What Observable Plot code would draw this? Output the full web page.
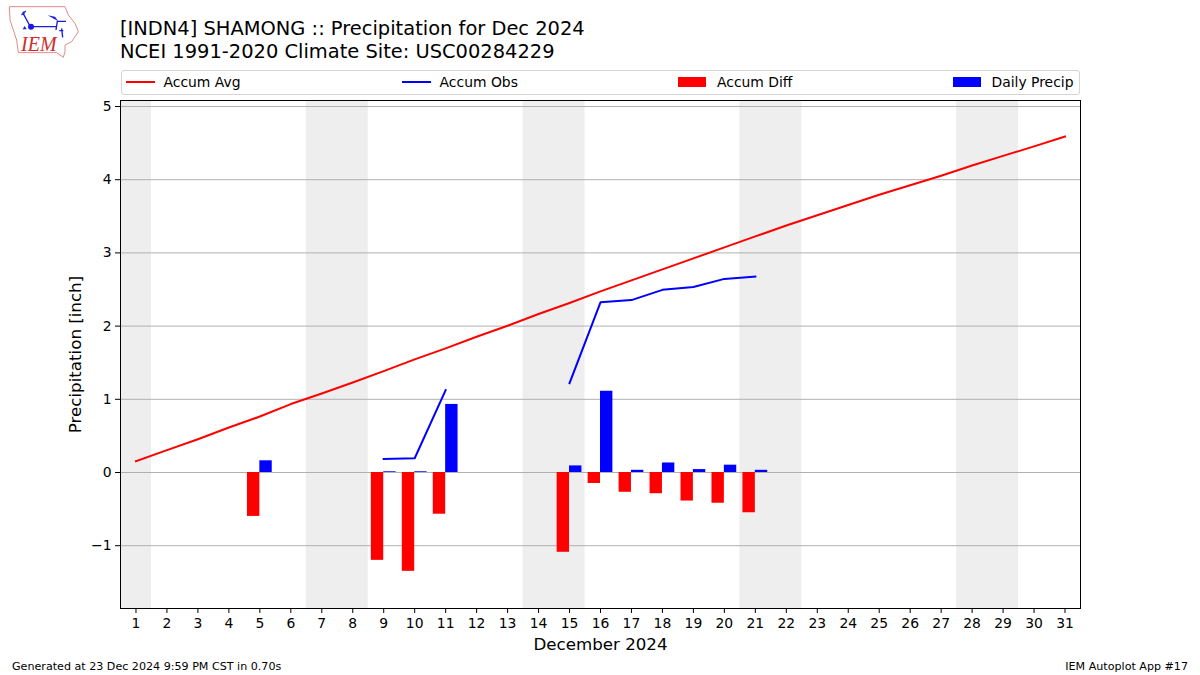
<!DOCTYPE html>
<html>
<head>
<meta charset="utf-8">
<script src="https://cdn.jsdelivr.net/npm/d3@7"></script>
<script src="https://cdn.jsdelivr.net/npm/@observablehq/plot@0.6"></script>
<style>
html,body{margin:0;padding:0;background:#fff;}
body{width:1200px;height:675px;position:relative;overflow:hidden;font-family:"DejaVu Sans",sans-serif;color:#000;}
#title{position:absolute;left:120px;top:18px;font-size:19.44px;line-height:22.8px;white-space:nowrap;z-index:2;}
#legend{position:absolute;left:120.5px;top:70px;width:959px;height:25px;box-sizing:border-box;border:1px solid #d4d4d4;border-radius:3px;display:flex;justify-content:space-between;align-items:center;padding:0 5px 2px 4px;font-size:13.9px;z-index:2;background:#fff;}
.item{display:flex;align-items:center;white-space:nowrap;}
.key{display:inline-block;width:29px;margin-right:9px;}
.ln{height:2px;}
.sw{height:10px;margin-right:11px;width:28px;margin-left:-1px;}
#chart{position:absolute;left:0;top:90px;}
#foot-l{position:absolute;left:12px;top:660px;font-size:11.11px;}
#foot-r{position:absolute;right:12px;top:660px;font-size:11.11px;}
#logo{position:absolute;left:0;top:0;z-index:2;}
</style>
</head>
<body>
<svg id="logo" width="100" height="60" viewBox="0 0 300 180">
  <path d="M28 20L195 20L205 45L225 70L235 95L215 125L195 135L195 155L190 172L170 158L55 158L50 120L30 60Z" fill="none" stroke="#e58a8a" stroke-width="3"/>
  <path d="M92 80L168 80M170 64L198 64M172 64L168 90M178 92L190 92M185 85L188 112M90 78L68 38M68 38L78 34M64 44L74 40" fill="none" stroke="#1a1ae0" stroke-width="4"/>
  <path d="M143 46L165 50L175 64Z" fill="#1a1ae0"/>
  <path d="M68 88L74 78L80 88Z" fill="#1a1ae0"/>
  <circle cx="93" cy="80" r="9" fill="#1a1ae0"/>
  <text x="63" y="154" font-family="Liberation Serif" font-style="italic" font-size="60" fill="#d22b2b">IEM</text>
</svg>
<div id="title">[INDN4] SHAMONG :: Precipitation for Dec 2024<br>NCEI 1991-2020 Climate Site: USC00284229</div>
<div id="legend">
  <span class="item"><span class="key ln" style="background:#f00"></span>Accum Avg</span>
  <span class="item"><span class="key ln" style="background:#00f"></span>Accum Obs</span>
  <span class="item"><span class="key sw" style="background:#f00"></span>Accum Diff</span>
  <span class="item"><span class="key sw" style="background:#00f"></span>Daily Precip</span>
</div>
<div id="chart"></div>
<div id="foot-l">Generated at 23 Dec 2024 9:59 PM CST in 0.70s</div>
<div id="foot-r">IEM Autoplot App #17</div>
<script>
const days = d3.range(1, 32);
const accumAvg = [0.155,0.305,0.455,0.615,0.765,0.935,1.08,1.23,1.385,1.545,1.695,1.855,2.005,2.165,2.315,2.475,2.625,2.775,2.925,3.075,3.225,3.375,3.515,3.655,3.795,3.925,4.055,4.195,4.325,4.455,4.59];
const accumObs = [null,null,null,null,null,null,null,null,0.185,0.195,1.125,null,null,null,1.22,2.325,2.355,2.495,2.535,2.645,2.675,null,null,null,null,null,null,null,null,null,null];
const barDays  = [5,9,10,11,15,16,17,18,19,20,21];
const daily    = [0.16,0.01,0.01,0.93,0.09,1.11,0.03,0.13,0.04,0.10,0.03];
const diff     = [-0.60,-1.20,-1.35,-0.57,-1.09,-0.15,-0.27,-0.29,-0.39,-0.42,-0.55];
const weekendStart = [0.5,6.5,13.5,20.5,27.5];
const weekendEnd   = [1.5,8.5,15.5,22.5,29.5];
const yTicks = [-1,0,1,2,3,4,5];
const barWidth = 0.4;

const chart = Plot.plot({
  width: 1200,
  height: 560,
  marginTop: 10,
  marginBottom: 42,
  marginLeft: 120,
  marginRight: 120,
  style: {fontFamily: '"DejaVu Sans", sans-serif', fontSize: "13.9px", color: "#000", background: "transparent", overflow: "visible"},
  x: {type: "linear", domain: [0.5, 31.5]},
  y: {type: "linear", domain: [-1.858, 5.082]},
  marks: [
    Plot.rect(weekendStart, {x1: d => d, x2: (d, i) => weekendEnd[i], fill: "#eeeeee"}),
    Plot.gridY(yTicks, {stroke: "#b0b0b0", strokeOpacity: 1, strokeWidth: 1}),
    Plot.rect(barDays, {x1: (d) => d - barWidth, x2: d => d, y1: () => 0, y2: (d, i) => diff[i], fill: "#ff0000"}),
    Plot.rect(barDays, {x1: d => d, x2: d => d + barWidth, y1: () => 0, y2: (d, i) => daily[i], fill: "#0000ff"}),
    Plot.line(days, {x: d => d, y: (d, i) => accumAvg[i], stroke: "#ff0000", strokeWidth: 2, strokeLinecap: "square"}),
    Plot.line(days, {x: d => d, y: (d, i) => accumObs[i] ?? NaN, stroke: "#0000ff", strokeWidth: 2, strokeLinecap: "square"}),
    Plot.frame({stroke: "#000", strokeWidth: 1}),
    Plot.axisX(days, {tickSize: 5, tickPadding: 5, tickFormat: d => String(d), label: null, stroke: "#000"}),
    Plot.axisY(yTicks, {tickSize: 5, tickPadding: 4, tickFormat: d3.format("d"), label: null, stroke: "#000"}),
    Plot.text(["December 2024"], {frameAnchor: "bottom", dy: 36, lineAnchor: "middle", fontSize: 16.67, fill: "#000"}),
    Plot.text(["Precipitation [inch]"], {frameAnchor: "left", textAnchor: "middle", dx: -45, rotate: -90, fontSize: 16.67, fill: "#000"})
  ]
});
document.getElementById("chart").appendChild(chart);
</script>
</body>
</html>
